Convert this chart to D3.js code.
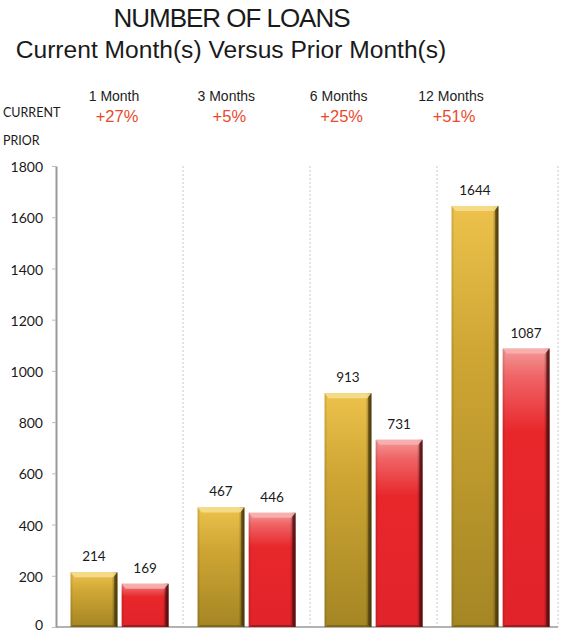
<!DOCTYPE html>
<html><head><meta charset="utf-8">
<script src="https://cdn.jsdelivr.net/npm/d3@7/dist/d3.min.js"></script>
<style>
html,body{margin:0;padding:0;background:#fff;}
svg{display:block;}
</style></head>
<body>
<script>
const categories = ["1 Month", "3 Months", "6 Months", "12 Months"];
const changeLabels = ["+27%", "+5%", "+25%", "+51%"];
const seriesNames = ["CURRENT", "PRIOR"];
const currentValues = [214, 467, 913, 1644];
const priorValues = [169, 446, 731, 1087];
const yTicks = [0, 200, 400, 600, 800, 1000, 1200, 1400, 1600, 1800];
const titleLines = ["NUMBER OF LOANS", "Current Month(s) Versus Prior Month(s)"];

const W = 564, H = 634;
const svg = d3.select("body").append("svg").attr("width", W).attr("height", H);
const defs = svg.append("defs");

const gGold = defs.append("linearGradient").attr("id", "gold").attr("x1", 0).attr("y1", 0).attr("x2", 0).attr("y2", 1);
[[0, "#ecc24c"], [0.35, "#cfa634"], [1, "#a48624"]].forEach(s => gGold.append("stop").attr("offset", s[0]).attr("stop-color", s[1]));
const gRed = defs.append("linearGradient").attr("id", "red").attr("x1", 0).attr("y1", 0).attr("x2", 0).attr("y2", 1);
[[0, "#f39a98"], [0.1, "#ef6466"], [0.3, "#e8272b"], [1, "#e1232a"]].forEach(s => gRed.append("stop").attr("offset", s[0]).attr("stop-color", s[1]));
const gShade = defs.append("linearGradient").attr("id", "shade").attr("x1", 0).attr("y1", 0).attr("x2", 1).attr("y2", 0);
[[0, "#000", 0.15], [0.06, "#000", 0.0], [0.88, "#000", 0.0], [0.95, "#000", 0.35], [1, "#000", 0.7]].forEach(s => gShade.append("stop").attr("offset", s[0]).attr("stop-color", s[1]).attr("stop-opacity", s[2]));

const y = d3.scaleLinear().domain([0, 1800]).range([627, 166]);
const x = d3.scaleBand().domain(categories).range([56, 564]).paddingInner(0).paddingOuter(0);
const xs = d3.scaleBand().domain(seriesNames).range([0, x.bandwidth()]).paddingInner(0.085).paddingOuter(0.285);
const headX = d3.scalePoint().domain(categories).range([114, 451]);
const pctX = d3.scalePoint().domain(categories).range([117, 454]);

// Titles
svg.append("text").attr("x", 232).attr("y", 27).attr("text-anchor", "middle")
  .style("font-family", "'Liberation Sans', Arial, sans-serif").style("font-size", "26px").style("fill", "#1a1a1a")
  .attr("textLength", 237).text(titleLines[0]);
svg.append("text").attr("x", 231).attr("y", 58).attr("text-anchor", "middle")
  .style("font-family", "'Liberation Sans', Arial, sans-serif").style("font-size", "24.6px").style("fill", "#1a1a1a")
  .text(titleLines[1]);

// Header row
svg.selectAll("text.head").data(categories).join("text").attr("class", "head")
  .attr("x", d => headX(d)).attr("y", 101).attr("text-anchor", "middle")
  .style("font-family", "'Liberation Sans', Arial, sans-serif").style("font-size", "14px").style("fill", "#222")
  .text(d => d);
svg.selectAll("text.pct").data(changeLabels).join("text").attr("class", "pct")
  .attr("x", (d, i) => pctX(categories[i])).attr("y", 122).attr("text-anchor", "middle")
  .style("font-family", "'Liberation Sans', Arial, sans-serif").style("font-size", "16.5px").style("fill", "#e9492c")
  .text(d => d);
svg.selectAll("text.ser").data(seriesNames).join("text").attr("class", "ser")
  .attr("x", 3).attr("y", (d, i) => 117 + i * 28)
  .style("font-family", "Lato, 'Open Sans', sans-serif").style("font-size", "12.5px").style("fill", "#1a1a1a")
  .text(d => d);

// Dotted dividers
const divs = categories.slice(1).map(c => x(c)).concat([558]);
svg.selectAll("line.div").data(divs).join("line").attr("class", "div")
  .attr("x1", d => d).attr("x2", d => d).attr("y1", y(1800)).attr("y2", y(0))
  .attr("stroke", "#c8c8c8").attr("stroke-width", 1).attr("stroke-dasharray", "2,2");

// Y axis
const ax = svg.append("g").attr("transform", "translate(56,0)")
  .call(d3.axisLeft(y).tickValues(yTicks).tickFormat(d3.format("d")).tickSize(4).tickSizeOuter(0).tickPadding(9));
ax.select(".domain").attr("stroke", "#9a9a9a").attr("stroke-width", 2);
ax.selectAll(".tick line").attr("stroke", "#bbb");
ax.selectAll(".tick text").attr("dy", d => d === 0 ? "0.2em" : "0.4em").style("font-family", "Lato, 'Open Sans', sans-serif").style("font-size", "14px").style("fill", "#1a1a1a");

// bottom axis line
svg.append("line").attr("x1", 56).attr("x2", 558).attr("y1", y(0)).attr("y2", y(0))
  .attr("stroke", "#9a9a9a").attr("stroke-width", 1.5);

// Bars
const rows = [];
categories.forEach((c, i) => {
  rows.push({cat: c, ser: seriesNames[0], v: currentValues[i], fill: "url(#gold)", top: "#f7df93", right: "#4f3d0c", bottom: "#6b5512"});
  rows.push({cat: c, ser: seriesNames[1], v: priorValues[i], fill: "url(#red)", top: "#f8b4b2", right: "#5e0d0f", bottom: "#7a1214"});
});
const bw = xs.bandwidth();
const bars = svg.selectAll("g.bar").data(rows).join("g").attr("class", "bar")
  .attr("transform", d => `translate(${x(d.cat) + xs(d.ser)},${y(d.v)})`);
bars.append("rect").attr("width", bw).attr("height", d => y(0) - y(d.v)).attr("fill", d => d.fill);
bars.append("rect").attr("width", bw).attr("height", d => y(0) - y(d.v)).attr("fill", "url(#shade)");
bars.append("polygon").attr("points", `0,0 ${bw},0 ${bw - 4},5 4,5`).attr("fill", d => d.top).attr("opacity", 0.85);
bars.append("polygon").attr("points", d => { const h = y(0) - y(d.v); return `${bw},0 ${bw},${h} ${bw - 3},${h - 2} ${bw - 3},4`; })
  .attr("fill", d => d.right).attr("opacity", 0.75);
bars.append("polygon").attr("points", d => { const h = y(0) - y(d.v); return `0,${h} ${bw},${h} ${bw - 3},${h - 2} 3,${h - 2}`; })
  .attr("fill", d => d.bottom).attr("opacity", 0.6);

// Value labels
svg.selectAll("text.val").data(rows).join("text").attr("class", "val")
  .attr("x", d => x(d.cat) + xs(d.ser) + bw / 2).attr("y", d => y(d.v) - 11).attr("text-anchor", "middle")
  .style("font-family", "Lato, 'Open Sans', sans-serif").style("font-size", "13.5px").style("fill", "#1a1a1a")
  .text(d => d.v);
</script>
</body></html>
